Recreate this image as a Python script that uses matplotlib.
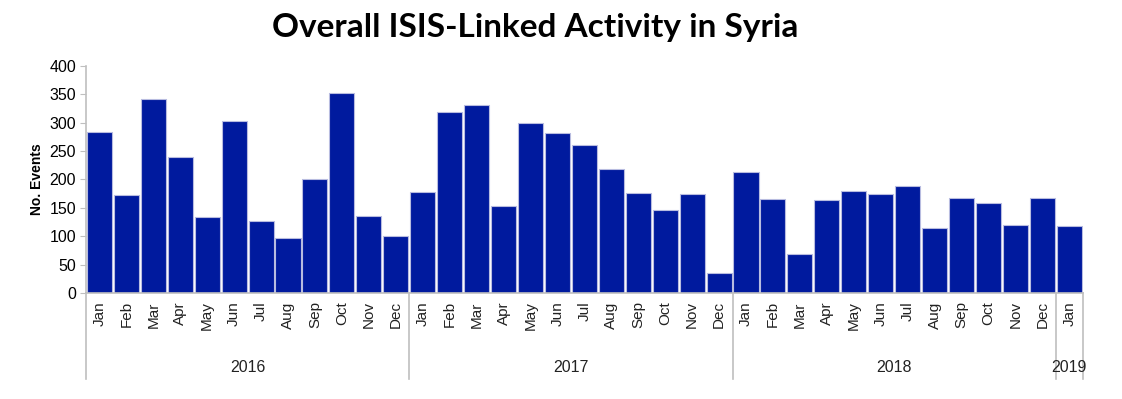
import numpy as np
import matplotlib.pyplot as plt
from matplotlib.transforms import blended_transform_factory

months = ["Jan", "Feb", "Mar", "Apr", "May", "Jun", "Jul", "Aug", "Sep", "Oct", "Nov", "Dec"]
years = ["2016", "2017", "2018", "2019"]
months_per_year = [12, 12, 12, 1]

events_2016 = [284, 172, 342, 239, 133, 303, 126, 97, 200, 352, 136, 101]
events_2017 = [178, 318, 332, 154, 300, 282, 260, 218, 176, 146, 175, 36]
events_2018 = [214, 165, 68, 164, 179, 175, 189, 115, 168, 158, 119, 168]
events_2019 = [118]

values = events_2016 + events_2017 + events_2018 + events_2019
labels = []
for n in months_per_year:
    labels += months[:n]
x = np.arange(len(values))

plt.rcParams["font.family"] = ["Liberation Sans", "DejaVu Sans"]
fig = plt.figure(figsize=(11.22, 3.99), dpi=100)
ax = fig.add_axes([0.0766, 0.2657, 0.8884, 0.569])

ax.bar(x, values, width=0.93, color="#001a9e", edgecolor="#b8bce0", linewidth=0.8)
ax.set_xlim(-0.5, len(values) - 0.5)
ax.set_ylim(0, 400)
ax.set_yticks(np.arange(0, 401, 50))
ax.tick_params(axis="y", labelsize=11.5, color="#bfbfbf", length=4, pad=3)
ax.set_xticks(x)
ax.set_xticklabels(labels, rotation=90, fontsize=11, color="#222222")
ax.tick_params(axis="x", length=0, pad=6)
ax.set_ylabel("No. Events", fontsize=10, fontweight="bold", labelpad=4)

for s in ["top", "right"]:
    ax.spines[s].set_visible(False)
for s in ["left", "bottom"]:
    ax.spines[s].set_color("#bfbfbf")
    ax.spines[s].set_linewidth(1.2)

# year separators and labels
trans = blended_transform_factory(ax.transData, ax.transAxes)
edges = np.concatenate([[0], np.cumsum(months_per_year)]) - 0.5
for e in edges:
    ax.plot([e, e], [0, -0.38], transform=trans, color="#bfbfbf", lw=1.2, clip_on=False)
for i, yr in enumerate(years):
    mid = (edges[i] + edges[i + 1]) / 2
    ax.text(mid, -0.33, yr, transform=trans, ha="center", va="center", fontsize=11.5, color="#222222")

fig.text(0.477, 0.932, "Overall ISIS-Linked Activity in Syria", ha="center", va="center",
         fontsize=24, fontweight="bold", family=["Lato", "DejaVu Sans"])

fig.savefig("out.png", dpi=100)
